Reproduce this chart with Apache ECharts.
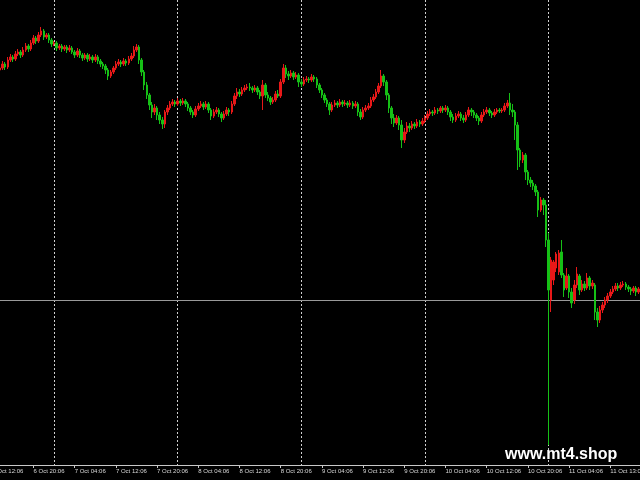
<!DOCTYPE html>
<html><head><meta charset="utf-8">
<script src="https://cdn.jsdelivr.net/npm/echarts@6/dist/echarts.min.js"></script>
<style>html,body{margin:0;padding:0;background:#000;}#c{width:640px;height:480px;}</style>
</head><body><div id="c"></div>
<script>
// Axis tick labels (one every 16 bars of 30 minutes)
const tickLabels = ['6 Oct 12:06','6 Oct 20:06','7 Oct 04:06','7 Oct 12:06','7 Oct 20:06','8 Oct 04:06','8 Oct 12:06','8 Oct 20:06','9 Oct 04:06','9 Oct 12:06','9 Oct 20:06','10 Oct 04:06','10 Oct 12:06','10 Oct 20:06','11 Oct 04:06','11 Oct 13:06'];
const barsPerLabel = 16;
const barsPerDay = 48;
const firstDayBreak = 24;
const hLineLevel = 1.2204;
const watermark = 'www.mt4.shop';

// OHLC rows: [open, close, low, high]
const oct6 = [
[1.2428,1.2430,1.2426,1.2432],[1.2430,1.2432,1.2428,1.2434],[1.2432,1.2430,1.2427,1.2434],[1.2430,1.2432,1.2428,1.2435],
[1.2432,1.2436,1.2430,1.2439],[1.2436,1.2433,1.2430,1.2438],[1.2433,1.2440,1.2431,1.2443],[1.2440,1.2443,1.2438,1.2446],
[1.2443,1.2441,1.2438,1.2445],[1.2441,1.2446,1.2439,1.2449],[1.2446,1.2448,1.2444,1.2451],[1.2448,1.2445,1.2442,1.2450],
[1.2445,1.2450,1.2443,1.2453],[1.2450,1.2454,1.2448,1.2457],[1.2454,1.2451,1.2448,1.2456],[1.2451,1.2457,1.2449,1.2460],
[1.2457,1.2462,1.2455,1.2465],[1.2462,1.2459,1.2456,1.2464],[1.2459,1.2465,1.2457,1.2468],[1.2465,1.2469,1.2463,1.2473],
[1.2469,1.2463,1.2460,1.2471],[1.2463,1.2465,1.2461,1.2467],[1.2465,1.2460,1.2457,1.2467],[1.2460,1.2456,1.2453,1.2462]
];
const oct7 = [
[1.2456,1.2457,1.2454,1.2459],[1.2457,1.2452,1.2449,1.2459],[1.2452,1.2454,1.2450,1.2456],[1.2454,1.2451,1.2448,1.2456],
[1.2451,1.2453,1.2449,1.2455],[1.2453,1.2450,1.2447,1.2455],[1.2450,1.2452,1.2448,1.2455],[1.2452,1.2448,1.2446,1.2454],
[1.2448,1.2445,1.2442,1.2450],[1.2445,1.2449,1.2443,1.2452],[1.2449,1.2445,1.2442,1.2451],[1.2445,1.2442,1.2439,1.2447],
[1.2442,1.2445,1.2440,1.2447],[1.2445,1.2441,1.2438,1.2447],[1.2441,1.2443,1.2439,1.2446],[1.2443,1.2440,1.2437,1.2445],
[1.2440,1.2443,1.2438,1.2446],[1.2443,1.2439,1.2436,1.2445],[1.2439,1.2436,1.2433,1.2441],[1.2436,1.2434,1.2431,1.2438],
[1.2434,1.2430,1.2426,1.2436],[1.2430,1.2424,1.2420,1.2432],[1.2424,1.2428,1.2422,1.2430],[1.2428,1.2432,1.2426,1.2434],
[1.2432,1.2436,1.2430,1.2439],[1.2436,1.2438,1.2434,1.2441],[1.2438,1.2436,1.2433,1.2440],[1.2436,1.2439,1.2434,1.2442],
[1.2439,1.2437,1.2434,1.2441],[1.2437,1.2441,1.2435,1.2444],[1.2441,1.2444,1.2439,1.2447],[1.2444,1.2450,1.2442,1.2454],
[1.2450,1.2453,1.2448,1.2456],[1.2453,1.2440,1.2436,1.2455],[1.2440,1.2428,1.2424,1.2442],[1.2428,1.2415,1.2410,1.2430],
[1.2415,1.2405,1.2401,1.2418],[1.2405,1.2395,1.2390,1.2407],[1.2395,1.2388,1.2382,1.2398],[1.2388,1.2392,1.2385,1.2396],
[1.2392,1.2385,1.2380,1.2394],[1.2385,1.2380,1.2376,1.2388],[1.2380,1.2376,1.2371,1.2383],[1.2376,1.2388,1.2372,1.2390],
[1.2388,1.2392,1.2385,1.2395],[1.2392,1.2396,1.2390,1.2399],[1.2396,1.2398,1.2394,1.2401],[1.2398,1.2396,1.2393,1.2400]
];
const oct8 = [
[1.2396,1.2399,1.2394,1.2402],[1.2399,1.2397,1.2394,1.2401],[1.2397,1.2399,1.2395,1.2402],[1.2399,1.2396,1.2393,1.2401],
[1.2396,1.2392,1.2389,1.2398],[1.2392,1.2388,1.2385,1.2394],[1.2388,1.2385,1.2382,1.2390],[1.2385,1.2391,1.2383,1.2394],
[1.2391,1.2394,1.2389,1.2397],[1.2394,1.2396,1.2392,1.2399],[1.2396,1.2393,1.2390,1.2398],[1.2393,1.2396,1.2391,1.2399],
[1.2396,1.2390,1.2387,1.2398],[1.2390,1.2384,1.2380,1.2392],[1.2384,1.2388,1.2382,1.2391],[1.2388,1.2390,1.2386,1.2393],
[1.2390,1.2386,1.2383,1.2392],[1.2386,1.2382,1.2378,1.2388],[1.2382,1.2386,1.2380,1.2389],[1.2386,1.2390,1.2384,1.2393],
[1.2390,1.2388,1.2384,1.2392],[1.2388,1.2396,1.2386,1.2399],[1.2396,1.2404,1.2394,1.2407],[1.2404,1.2408,1.2401,1.2412],
[1.2408,1.2406,1.2403,1.2411],[1.2406,1.2410,1.2404,1.2413],[1.2410,1.2412,1.2408,1.2415],[1.2412,1.2413,1.2410,1.2416],
[1.2413,1.2412,1.2409,1.2417],[1.2412,1.2410,1.2407,1.2414],[1.2410,1.2412,1.2408,1.2415],[1.2412,1.2408,1.2405,1.2414],
[1.2408,1.2404,1.2401,1.2410],[1.2404,1.2415,1.2390,1.2420],[1.2415,1.2405,1.2402,1.2417],[1.2405,1.2402,1.2399,1.2408],
[1.2402,1.2398,1.2395,1.2404],[1.2398,1.2400,1.2396,1.2403],[1.2400,1.2406,1.2398,1.2409],[1.2406,1.2404,1.2402,1.2410],
[1.2404,1.2418,1.2402,1.2421],[1.2418,1.2432,1.2416,1.2436],[1.2432,1.2426,1.2422,1.2435],[1.2426,1.2424,1.2420,1.2429],
[1.2424,1.2427,1.2422,1.2430],[1.2427,1.2423,1.2420,1.2429],[1.2423,1.2425,1.2421,1.2428],[1.2425,1.2418,1.2413,1.2427]
];
const oct9 = [
[1.2418,1.2416,1.2413,1.2421],[1.2416,1.2420,1.2414,1.2423],[1.2420,1.2421,1.2418,1.2424],[1.2421,1.2420,1.2417,1.2423],
[1.2420,1.2423,1.2418,1.2426],[1.2423,1.2421,1.2418,1.2425],[1.2421,1.2415,1.2412,1.2423],[1.2415,1.2410,1.2407,1.2417],
[1.2410,1.2405,1.2402,1.2412],[1.2405,1.2400,1.2397,1.2407],[1.2400,1.2396,1.2393,1.2402],[1.2396,1.2390,1.2385,1.2398],
[1.2390,1.2395,1.2388,1.2398],[1.2395,1.2397,1.2393,1.2400],[1.2397,1.2395,1.2392,1.2399],[1.2395,1.2398,1.2393,1.2401],
[1.2398,1.2396,1.2393,1.2400],[1.2396,1.2397,1.2394,1.2400],[1.2397,1.2395,1.2392,1.2399],[1.2395,1.2397,1.2393,1.2400],
[1.2397,1.2394,1.2391,1.2399],[1.2394,1.2396,1.2392,1.2399],[1.2396,1.2388,1.2384,1.2398],[1.2388,1.2383,1.2380,1.2391],
[1.2383,1.2390,1.2381,1.2393],[1.2390,1.2392,1.2388,1.2395],[1.2392,1.2394,1.2390,1.2397],[1.2394,1.2400,1.2392,1.2403],
[1.2400,1.2403,1.2398,1.2406],[1.2403,1.2408,1.2401,1.2411],[1.2408,1.2414,1.2406,1.2417],[1.2414,1.2424,1.2412,1.2430],
[1.2424,1.2418,1.2414,1.2426],[1.2418,1.2405,1.2400,1.2420],[1.2405,1.2392,1.2387,1.2407],[1.2392,1.2382,1.2376,1.2394],
[1.2382,1.2377,1.2373,1.2386],[1.2377,1.2382,1.2375,1.2385],[1.2382,1.2375,1.2370,1.2384],[1.2375,1.2360,1.2352,1.2380],
[1.2360,1.2368,1.2357,1.2372],[1.2368,1.2374,1.2366,1.2378],[1.2374,1.2372,1.2368,1.2377],[1.2372,1.2376,1.2370,1.2379],
[1.2376,1.2374,1.2371,1.2378],[1.2374,1.2378,1.2372,1.2381],[1.2378,1.2376,1.2373,1.2380],[1.2376,1.2379,1.2374,1.2382]
];
const oct10 = [
[1.2379,1.2382,1.2377,1.2385],[1.2382,1.2386,1.2380,1.2389],[1.2386,1.2388,1.2384,1.2391],[1.2388,1.2387,1.2384,1.2390],
[1.2387,1.2390,1.2385,1.2393],[1.2390,1.2389,1.2386,1.2392],[1.2389,1.2392,1.2387,1.2394],[1.2392,1.2390,1.2387,1.2394],
[1.2390,1.2392,1.2388,1.2395],[1.2392,1.2388,1.2385,1.2394],[1.2388,1.2383,1.2379,1.2390],[1.2383,1.2380,1.2377,1.2386],
[1.2380,1.2384,1.2378,1.2387],[1.2384,1.2386,1.2382,1.2389],[1.2386,1.2382,1.2379,1.2388],[1.2382,1.2380,1.2377,1.2385],
[1.2380,1.2385,1.2378,1.2388],[1.2385,1.2390,1.2383,1.2393],[1.2390,1.2388,1.2384,1.2392],[1.2388,1.2385,1.2382,1.2390],
[1.2385,1.2382,1.2379,1.2387],[1.2382,1.2379,1.2375,1.2384],[1.2379,1.2385,1.2377,1.2388],[1.2385,1.2388,1.2383,1.2391],
[1.2388,1.2390,1.2386,1.2393],[1.2390,1.2387,1.2384,1.2392],[1.2387,1.2385,1.2382,1.2389],[1.2385,1.2388,1.2383,1.2391],
[1.2388,1.2390,1.2386,1.2392],[1.2390,1.2389,1.2387,1.2392],[1.2389,1.2390,1.2387,1.2392],[1.2390,1.2394,1.2388,1.2397],
[1.2394,1.2397,1.2392,1.2400],[1.2397,1.2390,1.2385,1.2407],[1.2390,1.2388,1.2383,1.2396],[1.2388,1.2375,1.2360,1.2390],
[1.2375,1.2350,1.2330,1.2378],[1.2350,1.2340,1.2333,1.2352],[1.2340,1.2345,1.2337,1.2348],[1.2345,1.2328,1.2320,1.2347],
[1.2328,1.2320,1.2315,1.2330],[1.2320,1.2317,1.2313,1.2323],[1.2317,1.2314,1.2310,1.2320],[1.2314,1.2308,1.2304,1.2316],
[1.2308,1.2290,1.2283,1.2310],[1.2290,1.2300,1.2288,1.2303],[1.2300,1.2295,1.2285,1.2302],[1.2295,1.2260,1.2253,1.2300]
];
const oct11 = [
[1.2260,1.2210,1.2055,1.2267],[1.2200,1.2240,1.2188,1.2243],[1.2220,1.2238,1.2215,1.2240],[1.2232,1.2246,1.2228,1.2248],
[1.2228,1.2247,1.2225,1.2250],[1.2248,1.2225,1.2222,1.2260],[1.2225,1.2210,1.2203,1.2227],[1.2212,1.2224,1.2210,1.2232],
[1.2224,1.2208,1.2202,1.2226],[1.2208,1.2197,1.2192,1.2212],[1.2200,1.2215,1.2196,1.2220],[1.2215,1.2226,1.2212,1.2233],
[1.2224,1.2210,1.2205,1.2226],[1.2210,1.2216,1.2208,1.2220],[1.2216,1.2212,1.2209,1.2219],[1.2212,1.2222,1.2210,1.2227],
[1.2222,1.2214,1.2210,1.2224],[1.2214,1.2217,1.2211,1.2220],[1.2215,1.2188,1.2180,1.2217],[1.2188,1.2180,1.2173,1.2192],
[1.2180,1.2190,1.2177,1.2194],[1.2190,1.2195,1.2187,1.2198],[1.2195,1.2200,1.2192,1.2203],[1.2200,1.2204,1.2197,1.2207],
[1.2204,1.2208,1.2202,1.2211],[1.2208,1.2211,1.2206,1.2214],[1.2211,1.2214,1.2209,1.2217],[1.2214,1.2212,1.2209,1.2217],
[1.2212,1.2215,1.2210,1.2218],[1.2215,1.2216,1.2213,1.2219],[1.2216,1.2213,1.2210,1.2218],[1.2213,1.2211,1.2208,1.2215],
[1.2211,1.2209,1.2205,1.2213],[1.2209,1.2212,1.2207,1.2214],[1.2212,1.2208,1.2204,1.2214],[1.2208,1.2211,1.2206,1.2213]
];

const candles = [].concat(oct6, oct7, oct8, oct9, oct10, oct11);
const categories = candles.map((_, i) => String(i));
categories.push(String(candles.length));

const UP = '#e81818', DOWN = '#16c016';
const chart = echarts.init(document.getElementById('c'), null, {renderer: 'canvas'});
chart.setOption({
  backgroundColor: '#000',
  animation: false,
  grid: {left: -7.7, right: -1.2, top: 0, bottom: 15, containLabel: false, outerBoundsMode: 'none'},
  xAxis: {
    type: 'category', data: categories, boundaryGap: false, z: 0,
    axisLine: {show: true, lineStyle: {color: '#c8c8c8', width: 1}},
    axisTick: {show: true, length: 3, interval: (i) => i % barsPerLabel === 0, lineStyle: {color: '#c8c8c8'}},
    axisLabel: {
      show: true, interval: (i) => i % barsPerLabel === 0,
      formatter: (v, i) => tickLabels[i / barsPerLabel] || '',
      align: 'left', margin: 3, color: '#d8d8d8', fontSize: 6, fontFamily: 'Liberation Sans'
    },
    splitLine: {show: true, interval: (i) => i % barsPerDay === firstDayBreak,
      lineStyle: {color: '#d0d0d0', type: [2, 2], width: 1}}
  },
  yAxis: {type: 'value', min: 1.2035, max: 1.2500, show: false, splitLine: {show: false}},
  series: [{
    type: 'candlestick', data: candles, barWidth: 2, z: 5,
    itemStyle: {color: UP, color0: DOWN, borderColor: UP, borderColor0: DOWN, borderWidth: 1},
    markLine: {
      silent: true, symbol: ['none', 'none'], label: {show: false}, animation: false,
      lineStyle: {color: '#9a9a9a', type: 'solid', width: 1},
      data: [{yAxis: hLineLevel}]
    }
  }],
  graphic: [{
    type: 'text', x: 505, y: 455, z: 100,
    style: {text: watermark, fill: '#ffffff', font: 'bold 16px "Liberation Sans"', verticalAlign: 'middle'}
  }]
});
</script></body></html>
